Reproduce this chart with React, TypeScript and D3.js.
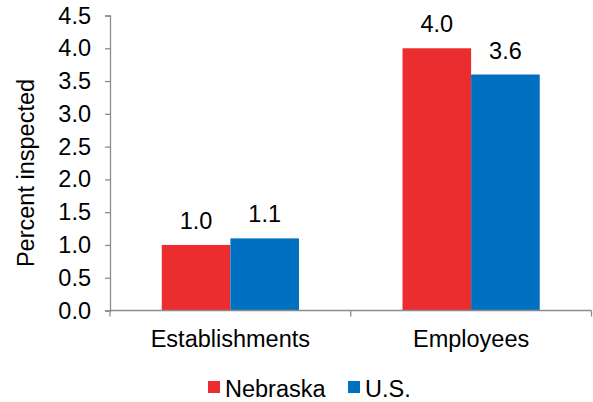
import React, { useEffect, useRef } from 'react';
import * as d3 from 'd3';

const categories = ['Establishments', 'Employees'];
const seriesNames = ['Nebraska', 'U.S.'];
const nebraska = [1.0, 4.0];
const us = [1.1, 3.6];
const yTicks = [0, 0.5, 1, 1.5, 2, 2.5, 3, 3.5, 4, 4.5];

const colors = ['#EC2D2F', '#0070C0'];
const FONT = '"Liberation Sans", Arial, sans-serif';
const FS = 23.5;

const App: React.FC = () => {
  const svgRef = useRef<SVGSVGElement>(null);

  useEffect(() => {
    if (!svgRef.current) return;
    const svg = d3.select(svgRef.current);
    svg.selectAll('*').remove();

    const width = 593;
    const height = 402;
    const left = 110;
    const right = 591.5;
    const top = 15.5;
    const bottom = 310.5;
    const axisColor = '#8c8c8c';

    const values = [nebraska, us];

    const y = d3.scaleLinear().domain([0, 4.5]).range([bottom, top]);

    const x0 = d3.scaleBand<string>()
      .domain(categories)
      .range([left, right])
      .paddingInner(0.43)
      .paddingOuter(0.215);

    const x1 = d3.scaleBand<string>()
      .domain(seriesNames)
      .range([0, x0.bandwidth()]);

    svg.attr('width', width).attr('height', height);

    // bars
    categories.forEach((cat, ci) => {
      const g = svg.append('g').attr('transform', `translate(${x0(cat)},0)`);
      seriesNames.forEach((s, si) => {
        const v = values[si][ci];
        g.append('rect')
          .attr('x', x1(s)!)
          .attr('y', y(v))
          .attr('width', x1.bandwidth())
          .attr('height', y(0) - y(v))
          .attr('fill', colors[si]);
        g.append('text')
          .attr('x', x1(s)! + x1.bandwidth() / 2)
          .attr('y', y(v) - 16)
          .attr('text-anchor', 'middle')
          .attr('font-family', FONT)
          .attr('font-size', FS)
          .attr('fill', '#000')
          .text(v.toFixed(1));
      });
    });

    // left axis
    const yAxis = svg.append('g')
      .attr('transform', `translate(${left},0)`)
      .call(d3.axisLeft(y).tickValues(yTicks).tickSize(5).tickSizeOuter(5).tickPadding(14).tickFormat(d3.format('.1f')));
    yAxis.selectAll('text')
      .attr('font-family', FONT)
      .attr('font-size', FS)
      .attr('fill', '#000');
    yAxis.selectAll('.domain').attr('stroke', axisColor).attr('stroke-width', 1.3);
    yAxis.selectAll('.tick line').attr('stroke', axisColor).attr('stroke-width', 1.3);

    // bottom axis
    const bounds = [left, left + x0.step(), right];
    svg.append('line')
      .attr('x1', left).attr('x2', right)
      .attr('y1', bottom).attr('y2', bottom)
      .attr('stroke', axisColor).attr('stroke-width', 1.3);
    svg.selectAll('.xtick')
      .data(bounds)
      .enter().append('line')
      .attr('class', 'xtick')
      .attr('x1', d => d).attr('x2', d => d)
      .attr('y1', bottom).attr('y2', bottom + 6)
      .attr('stroke', axisColor).attr('stroke-width', 1.3);

    svg.selectAll('.xlabel')
      .data(categories)
      .enter().append('text')
      .attr('class', 'xlabel')
      .attr('x', d => x0(d)! + x0.bandwidth() / 2)
      .attr('y', 347)
      .attr('text-anchor', 'middle')
      .attr('font-family', FONT)
      .attr('font-size', FS)
      .attr('fill', '#000')
      .text(d => d);

    // y axis title
    svg.append('text')
      .attr('transform', `translate(34,173) rotate(-90)`)
      .attr('text-anchor', 'middle')
      .attr('font-family', FONT)
      .attr('font-size', FS)
      .attr('fill', '#000')
      .text('Percent inspected');

    // legend
    const legendX = [208, 348];
    seriesNames.forEach((s, i) => {
      svg.append('rect')
        .attr('x', legendX[i]).attr('y', 381)
        .attr('width', 12).attr('height', 12)
        .attr('fill', colors[i]);
      svg.append('text')
        .attr('x', legendX[i] + 17).attr('y', 397)
        .attr('font-family', FONT)
        .attr('font-size', FS)
        .attr('fill', '#000')
        .text(s);
    });
  }, []);

  return (
    <div style={{ position: 'absolute', left: 0, top: 0 }}>
      <svg ref={svgRef} style={{ display: 'block' }}></svg>
    </div>
  );
};

export default App;
